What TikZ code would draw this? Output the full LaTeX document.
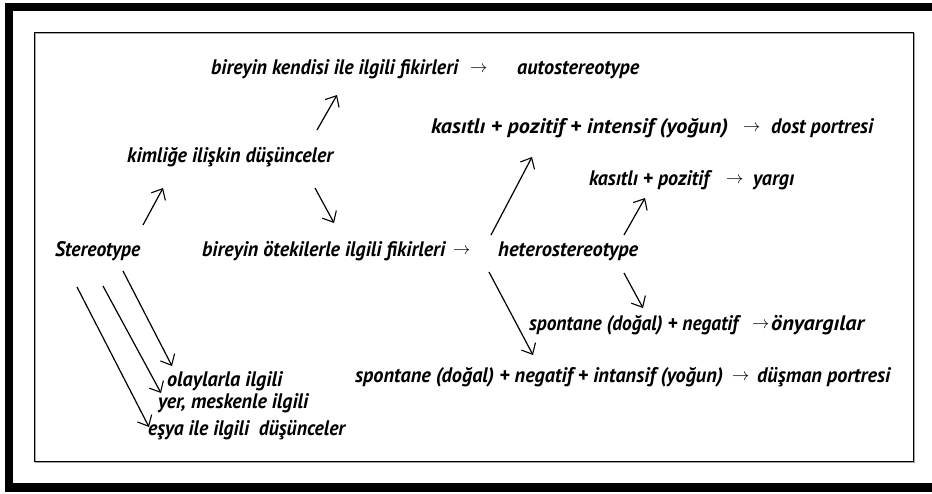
\documentclass[tikz,border=0pt]{standalone}
\usepackage{fontspec}
\usepackage{graphicx}
\newfontfamily\lblfont{PT Sans}
\usetikzlibrary{arrows.meta}
\newsavebox\fitbox
\newcommand\fitto[2]{\sbox\fitbox{#2}\scalebox{\fpeval{#1/\wd\fitbox}}[1]{\usebox\fitbox}}
\begin{document}
\begin{tikzpicture}[x=1pt,y=-1pt,
  lbl/.style={inner sep=0pt,anchor=base west,font=\lblfont\bfseries\itshape\fontsize{21}{22}\selectfont},
  tarr/.style={inner sep=0pt,anchor=base west,font=\fontsize{16}{16}\selectfont},
  conn/.style={line width=1.2pt,-{Straight Barb[length=9pt,width=16pt,line width=1.1pt]}}]
\useasboundingbox (0,0) rectangle (932,493);
% outer black frame
\fill[black] (5,3) rectangle (932,11);
\fill[black] (5,3) rectangle (13,492);
\fill[black] (5,483) rectangle (932,492);
% inner frame
\draw[gray!70,line width=1.5pt] (35.5,33.5) rectangle (914.5,462.5);
\draw[black,line width=1pt] (34,32) rectangle (913,461);

% texts
\node[lbl] (kendi) at (211,74) {\fitto{247}{bireyin kendisi ile ilgili fikirleri}};
\node[tarr] (a1) at (470,72) {$\rightarrow$};
\node[lbl] (auto) at (517,74) {\fitto{122}{autostereotype}};

\node[lbl] (kimlik) at (127,162) {\fitto{206}{kimliğe ilişkin düşünceler}};
\node[lbl] (stereo) at (55,256) {\fitto{85}{Stereotype}};

\node[lbl] (oteki) at (202,256) {\fitto{243}{bireyin ötekilerle ilgili fikirleri}};
\node[tarr] (a2) at (453,254) {$\rightarrow$};
\node[lbl] (hetero) at (498,256) {\fitto{140}{heterostereotype}};

\node[lbl] (kpi) at (431,133) {\fitto{297}{kasıtlı + pozitif + intensif (yoğun)}};
\node[tarr] (a3) at (743,131) {$\rightarrow$};
\node[lbl] (dost) at (771,133) {\fitto{102}{dost portresi}};

\node[lbl] (kp) at (589,185) {\fitto{120}{kasıtlı + pozitif}};
\node[tarr] (a4) at (726,183) {$\rightarrow$};
\node[lbl] (yargi) at (753,185) {\fitto{41}{yargı}};

\node[lbl] (sn) at (529,330) {\fitto{209}{spontane (doğal) + negatif}};
\node[tarr] (a5) at (752,328) {$\rightarrow$};
\node[lbl] (onyargi) at (771,330) {\fitto{93}{önyargılar}};

\node[lbl] (sni) at (355,382) {\fitto{368}{spontane (doğal) + negatif + intansif (yoğun)}};
\node[tarr] (a6) at (732,380) {$\rightarrow$};
\node[lbl] (dusman) at (757,382) {\fitto{133}{düşman portresi}};

\node[lbl] (olay) at (167,386) {\fitto{115}{olaylarla ilgili}};
\node[lbl] (yer) at (158,408) {\fitto{150}{yer, meskenle ilgili}};
\node[lbl] (esya) at (148,435) {\fitto{197}{eşya ile ilgili\hspace{5pt} düşünceler}};

% connector end points
\coordinate (s1) at (143,225); \coordinate (e1) at (163,188);
\coordinate (s2) at (317,130); \coordinate (e2) at (337,95);
\coordinate (s3) at (315,188); \coordinate (e3) at (334,223);
\coordinate (s4) at (491,235); \coordinate (e4) at (532,157);
\coordinate (s5) at (624,235); \coordinate (e5) at (645,198);
\coordinate (s6) at (624,273); \coordinate (e6) at (643,308);
\coordinate (s7) at (489,272); \coordinate (e7) at (533,355);
\coordinate (s8) at (123,271); \coordinate (e8) at (172,366);
\coordinate (s9) at (103,286); \coordinate (e9) at (161,393);
\coordinate (s10) at (77,287); \coordinate (e10) at (149,427);

\draw[conn] (s1) -- (e1);
\draw[conn] (s2) -- (e2);
\draw[conn] (s3) -- (e3);
\draw[conn] (s4) -- (e4);
\draw[conn] (s5) -- (e5);
\draw[conn] (s6) -- (e6);
\draw[conn] (s7) -- (e7);
\draw[conn] (s8) -- (e8);
\draw[conn] (s9) -- (e9);
\draw[conn] (s10) -- (e10);
\end{tikzpicture}
\end{document}
